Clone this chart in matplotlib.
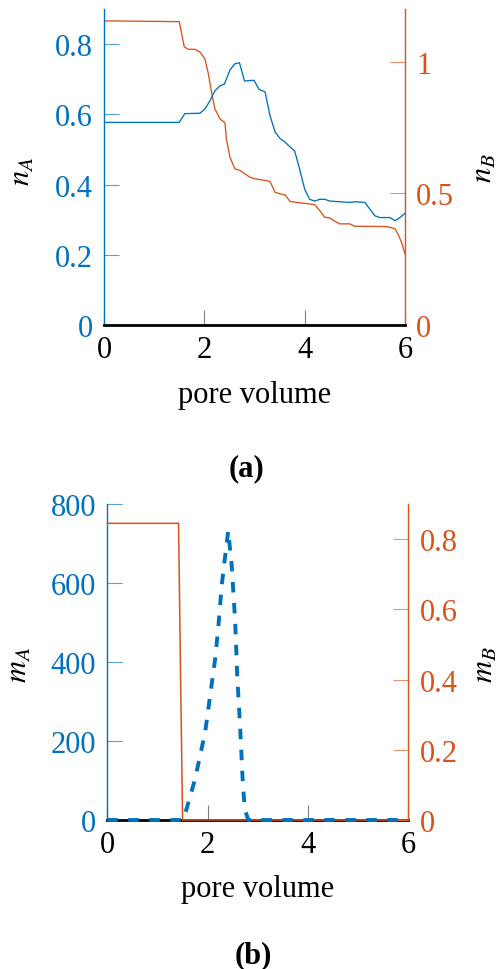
import matplotlib
matplotlib.use("Agg")
import matplotlib.pyplot as plt

# ---------------- data ----------------
x_nA = [0, 1.5, 1.61, 1.91, 2.01, 2.11, 2.21, 2.31, 2.40, 2.51, 2.61, 2.70, 2.80, 2.99,
        3.09, 3.21, 3.31, 3.41, 3.51, 3.61, 3.71, 3.80, 3.90, 4.00, 4.10, 4.20, 4.30,
        4.40, 4.50, 4.70, 4.90, 5.00, 5.20, 5.30, 5.40, 5.50, 5.70, 5.80, 5.90, 6.00]
nA = [0.577, 0.577, 0.602, 0.603, 0.615, 0.638, 0.667, 0.681, 0.686, 0.726, 0.744, 0.747,
      0.695, 0.697, 0.671, 0.664, 0.596, 0.550, 0.531, 0.521, 0.507, 0.496, 0.444, 0.387,
      0.358, 0.353, 0.358, 0.358, 0.353, 0.351, 0.349, 0.351, 0.349, 0.330, 0.311, 0.306,
      0.306, 0.297, 0.306, 0.318]

x_nB = [0, 1.50, 1.60, 1.68, 1.81, 1.91, 2.01, 2.08, 2.15, 2.21, 2.31, 2.41, 2.44, 2.51,
        2.61, 2.71, 2.81, 2.91, 3.01, 3.21, 3.31, 3.41, 3.51, 3.61, 3.71, 3.90, 4.00,
        4.20, 4.30, 4.40, 4.50, 4.60, 4.70, 4.90, 5.00, 5.60, 5.70, 5.80, 5.86, 5.93, 6.00]
nB = [1.155, 1.152, 1.056, 1.047, 1.047, 1.037, 1.011, 0.954, 0.878, 0.821, 0.783, 0.768,
      0.707, 0.637, 0.593, 0.587, 0.574, 0.561, 0.555, 0.549, 0.545, 0.504, 0.498, 0.494,
      0.469, 0.464, 0.462, 0.457, 0.435, 0.409, 0.407, 0.394, 0.384, 0.384, 0.375, 0.374,
      0.371, 0.365, 0.346, 0.314, 0.270]

x_mA = [0, 1.5, 1.58, 1.75, 1.85, 1.95, 2.05, 2.15, 2.21, 2.28, 2.35, 2.41, 2.48, 2.55,
        2.59, 2.65, 2.70, 2.74, 2.81, 6.0]
mA = [0, 0, 28, 104, 163, 222, 315, 408, 484, 593, 669, 732, 644, 500, 365, 230, 96, 28, 0, 0]

x_mB = [0, 1.42, 1.50, 6.0]
mB = [0.845, 0.845, 0, 0]

xticks = [0, 2, 4, 6]
nA_ticks = [0, 0.2, 0.4, 0.6, 0.8]
nA_ticklabels = ["0", "0.2", "0.4", "0.6", "0.8"]
nB_ticks = [0, 0.5, 1]
nB_ticklabels = ["0", "0.5", "1"]
mA_ticks = [0, 200, 400, 600, 800]
mB_ticks = [0, 0.2, 0.4, 0.6, 0.8]
mB_ticklabels = ["0", "0.2", "0.4", "0.6", "0.8"]

# ---------------- style ----------------
plt.rcParams['font.family'] = ['Liberation Serif', 'DejaVu Serif']
plt.rcParams['mathtext.fontset'] = 'stix'
FS = 22
BLUE = '#0072BD'
ORANGE = '#D95319'
BLUE_T = '#5AA0D6'
ORANGE_T = '#E8936A'
GRAY = '#7f7f7f'

W, H = 498, 970
fig = plt.figure(figsize=(W / 100, H / 100), dpi=100)


def px_axes(l, r, t, b):
    return [l / W, 1 - b / H, (r - l) / W, (b - t) / H]


def style(ax, axr, left_on_top=True):
    for a in (ax, axr):
        a.spines['top'].set_visible(False)
    ax.spines['right'].set_visible(False)
    axr.spines['left'].set_visible(False)
    axr.spines['bottom'].set_visible(False)
    ax.spines['left'].set_color(BLUE)
    ax.spines['left'].set_linewidth(1.0)
    axr.spines['right'].set_color(ORANGE)
    axr.spines['right'].set_linewidth(1.0)
    ax.spines['bottom'].set_color('black')
    ax.spines['bottom'].set_linewidth(2.0)
    ax.tick_params(axis='y', direction='in', length=11, width=0.8, color=BLUE_T,
                   labelcolor=BLUE, labelsize=FS, pad=8)
    ax.tick_params(axis='x', direction='in', length=11, width=0.8, color=GRAY,
                   labelcolor='black', labelsize=FS, pad=7)
    axr.tick_params(axis='y', direction='in', length=11, width=0.8, color=ORANGE_T,
                    labelcolor=ORANGE, labelsize=FS, pad=8)
    if left_on_top:
        ax.set_zorder(axr.get_zorder() + 1)
        ax.patch.set_visible(False)


# ---------------- (a) ----------------
ax1 = fig.add_axes(px_axes(104, 405, 10, 326))
ax1r = ax1.twinx()
ax1.plot(x_nA, nA, color=BLUE, lw=0.95)
ax1r.plot(x_nB, nB, color=ORANGE, lw=0.95)
ax1.set_xlim(0, 6)
ax1.set_ylim(0, 0.9)
ax1r.set_ylim(0, 1.2)
ax1.set_xticks(xticks)
ax1.set_xticklabels([str(v) for v in xticks])
ax1.set_yticks(nA_ticks)
ax1.set_yticklabels(nA_ticklabels)
ax1r.set_yticks(nB_ticks)
ax1r.set_yticklabels(nB_ticklabels)
style(ax1, ax1r)

# ---------------- (b) ----------------
ax2 = fig.add_axes(px_axes(107.3, 408.3, 505, 821))
ax2r = ax2.twinx()
ax2.set_xlim(0, 6)
ax2.set_ylim(0, 800)
ax2r.set_ylim(0, 0.9)
ax2r.plot(x_mB, mB, color=ORANGE, lw=1.1, zorder=3, clip_on=False)
# m_A drawn in the top (right) axes layer, but with the left-axis data transform
ax2r.plot(x_mA, mA, color=BLUE, lw=2.8, linestyle=(0, (2.7, 2.7)), zorder=4,
          transform=ax2.transData, clip_on=False)
ax2.set_xticks(xticks)
ax2.set_xticklabels([str(v) for v in xticks])
ax2.set_yticks(mA_ticks)
ax2.set_yticklabels([str(v) for v in mA_ticks])
ax2r.set_yticks(mB_ticks)
ax2r.set_yticklabels(mB_ticklabels)
style(ax2, ax2r, left_on_top=False)
ax2r.set_ylim(0, 0.9)

# ---------------- labels ----------------
fig.text(22 / W, 1 - 171 / H, r'$n_A$', rotation=90, ha='center', va='center', fontsize=FS)
fig.text(484 / W, 1 - 168 / H, r'$n_B$', rotation=90, ha='center', va='center', fontsize=FS)
fig.text(19 / W, 1 - 665 / H, r'$m_A$', rotation=90, ha='center', va='center', fontsize=FS)
fig.text(485 / W, 1 - 665 / H, r'$m_B$', rotation=90, ha='center', va='center', fontsize=FS)

fig.text(254.5 / W, 1 - 403 / H, 'pore volume', ha='center', va='baseline', fontsize=FS)
fig.text(257.8 / W, 1 - 896.7 / H, 'pore volume', ha='center', va='baseline', fontsize=FS)
fig.text(246.7 / W, 1 - 476.7 / H, '(a)', ha='center', va='baseline', fontsize=FS,
         fontweight='bold')
fig.text(253 / W, 1 - 963 / H, '(b)', ha='center', va='baseline', fontsize=FS,
         fontweight='bold')

fig.savefig('out.png', dpi=100)
